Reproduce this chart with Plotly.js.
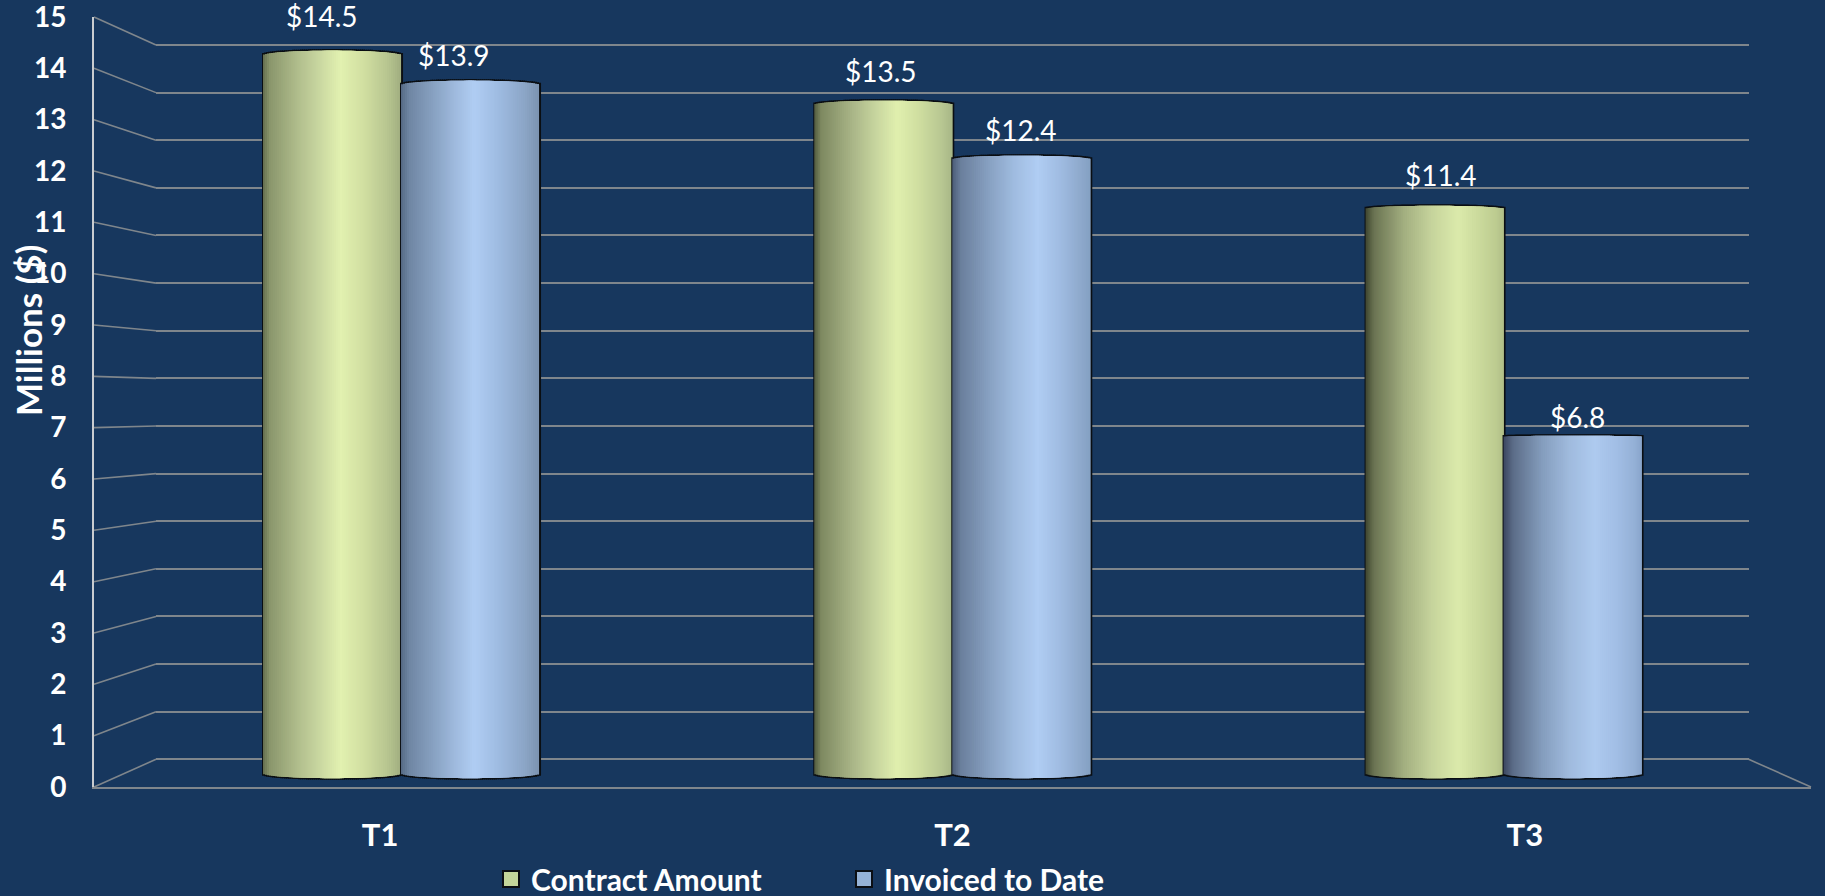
<!DOCTYPE html>
<html><head><meta charset="utf-8">
<script src="https://cdn.plot.ly/plotly-3.0.1.min.js"></script>
<style>html,body{margin:0;padding:0;background:#17375E;overflow:hidden}</style>
</head><body><div id="chart" style="width:1825px;height:896px"></div>
<script>
const categories = ['T1','T2','T3'];
const contractAmount = [14.5,13.5,11.4];
const invoicedToDate = [13.9,12.4,6.8];
const contractLabels = ['$14.5','$13.5','$11.4'];
const invoicedLabels = ['$13.9','$12.4','$6.8'];
const yTicks = [0,1,2,3,4,5,6,7,8,9,10,11,12,13,14,15];

const W=1825,H=896;
const fx=p=>p/W, fy=p=>1-p/H;
const FONT='Lato, "Noto Sans", sans-serif';
const GRID='#7f868c';
// planes (pixel frames of the pseudo-3D box)
const front={x0:94,x1:1811,y0:787,y15:17};
const back={x0:156,x1:1748.6,y0:759.3,y15:45};
const mid={x0:125.4,x1:1779.2,y0:773.5,y15:30.5};
const pxPerCat=(mid.x1-mid.x0)/3;
const barW=138/pxPerCat;
const pxPerVal=(mid.y0-mid.y15)/15;
const ELLB=4.7/pxPerVal, EDGE=1.5/pxPerVal, EDGEX=1/pxPerCat;
const topSag=v=>Math.max(1,4.7*Math.abs(v-5.5)/9)/pxPerVal;   // the cap flattens towards eye level
const N=70;
const backPad=0.2, backPx=(back.y0-back.y15)/15*backPad;
const midPad=0.4, midPx=pxPerVal*midPad;

function hex(c){return [1,3,5].map(i=>parseInt(c.substr(i,2),16));}
function ramp(stops,t){
  for(let i=1;i<stops.length;i++){ if(t<=stops[i][0]){
    const a=stops[i-1],b=stops[i],f=(t-a[0])/(b[0]-a[0]||1);
    const A=hex(a[1]),B=hex(b[1]);
    return 'rgb('+A.map((v,k)=>Math.round(v+(B[k]-v)*f)).join(',')+')';
  }}
  return stops[stops.length-1][1];
}
const contractStyle=[
 [[0,'#667050'],[.05,'#8a966c'],[.25,'#b0bd8c'],[.42,'#cbd9a2'],[.56,'#e2f1b0'],[.72,'#d2e0a2'],[.9,'#b8c690'],[1,'#a0ad80']],
 [[0,'#535b40'],[.05,'#7e8961'],[.28,'#aab688'],[.45,'#c8d69f'],[.6,'#e0efae'],[.76,'#cfdea0'],[.92,'#b8c792'],[1,'#a8b687']],
 [[0,'#3f4630'],[.06,'#6a7352'],[.28,'#a3af80'],[.48,'#c6d49c'],[.67,'#dbeaab'],[.82,'#cbda9c'],[.95,'#bccb90'],[1,'#b0be88']]
];
const invoicedStyle=[
 [[0,'#566b85'],[.06,'#6f86a3'],[.25,'#8aa4c4'],[.4,'#a0bbdf'],[.53,'#b0cdf3'],[.7,'#9fbce2'],[.9,'#8ba5c6'],[1,'#7c93b0']],
 [[0,'#4d5d78'],[.06,'#6a7f9c'],[.28,'#89a3c4'],[.45,'#a0bce0'],[.62,'#b0cdf3'],[.78,'#a0bce2'],[.93,'#8ea9cc'],[1,'#84a0c2']],
 [[0,'#3c4760'],[.07,'#5c6d88'],[.28,'#849dbd'],[.48,'#a0bbde'],[.66,'#aecaef'],[.82,'#a2bee5'],[.95,'#94b0d6'],[1,'#8aa6cc']]
];

const traces=[];
function legendTrace(name,color){return {type:'scatter',mode:'markers',name:name,x:[null],y:[null],xaxis:'x',yaxis:'y',
  marker:{symbol:'square',size:16,color:color,line:{color:'#0b0f14',width:2}},hoverinfo:'skip',showlegend:true};}
traces.push(legendTrace('Contract Amount','#C3D69B'));
traces.push(legendTrace('Invoiced to Date','#95B3D7'));
traces.push({type:'scatter',mode:'lines',x:[null],y:[null],xaxis:'x2',yaxis:'y2',showlegend:false,hoverinfo:'skip'});

const sag=u=>Math.sqrt(Math.max(0,1-u*u));
function cylinder(values,styles,start,name){
  const dw=(barW+2*EDGEX)/N;
  for(let i=0;i<N;i++){
    const s=sag((i+.5)/N*2-1);
    traces.push({type:'bar',x:categories,y:values.map(v=>v+topSag(v)*s+ELLB*s+2*EDGE),base:values.map(()=>-(ELLB*s+EDGE)),
      offset:start-EDGEX+i*dw,width:dw*1.5,marker:{color:'#0a0e12',line:{width:0}},cliponaxis:false,
      xaxis:'x3',yaxis:'y3',showlegend:false,hoverinfo:'skip'});
  }
  const sw=barW/N;
  for(let i=0;i<N;i++){
    const t=(i+.5)/N,uA=(i/N)*2-1,uB=((i+Math.min(3,N-i))/N)*2-1;
    const s=Math.min(sag(uA+1/N),sag(uB-1/N));
    // each slice runs under the next one, so no seam shows the dark outline
    traces.push({type:'bar',x:categories,y:values.map(v=>v+topSag(v)*s+ELLB*s),base:values.map(()=>-ELLB*s),
      offset:start+i*sw,width:sw*Math.min(3,N-i),marker:{color:styles.map(c=>ramp(c,t)),line:{width:0}},cliponaxis:false,
      xaxis:'x3',yaxis:'y3',showlegend:false,name:name,hoverinfo:'skip'});
  }
}
cylinder(contractAmount,contractStyle,-barW,'Contract Amount');
cylinder(invoicedToDate,invoicedStyle,0,'Invoiced to Date');

const shapes=yTicks.map(v=>({type:'line',layer:'below',xref:'paper',yref:'paper',
  x0:fx(front.x0),y0:fy(front.y0+(front.y15-front.y0)*v/15),
  x1:fx(back.x0),y1:fy(back.y0+(back.y15-back.y0)*v/15),
  line:{color:GRID,width:1.6}}));
shapes.push({type:'line',layer:'below',xref:'paper',yref:'paper',x0:fx(back.x1),y0:fy(back.y0),x1:fx(front.x1),y1:fy(front.y0),line:{color:GRID,width:1.6}});

const labelShift=[[-10,39],[-2,34],[6,34]];
const labelShift2=[[-16,30],[0,29],[5,20]];
const annotations=[];
function addLabels(vals,txt,dx,shifts){vals.forEach((v,i)=>annotations.push({
  xref:'x3',yref:'y3',x:i+dx,y:v,text:txt[i],showarrow:false,xanchor:'center',yanchor:'middle',
  xshift:shifts[i][0],yshift:shifts[i][1],font:{family:FONT,size:28,color:'#ffffff'}}));}
addLabels(contractAmount,contractLabels,-barW/2,labelShift);
addLabels(invoicedToDate,invoicedLabels,barW/2,labelShift2);
annotations.push({xref:'paper',yref:'paper',x:fx(28),y:fy(331),text:'<b>Millions ($)</b>',textangle:-90,showarrow:false,
  xanchor:'center',yanchor:'middle',font:{family:FONT,size:35,color:'#ffffff'}});

const layout={
  width:W,height:H,margin:{l:0,r:0,t:0,b:0,autoexpand:false},paper_bgcolor:'#17375E',plot_bgcolor:'rgba(0,0,0,0)',
  barmode:'overlay',showlegend:true,shapes,annotations,
  legend:{orientation:'h',x:fx(491),xanchor:'left',y:fy(879),yanchor:'middle',bgcolor:'rgba(0,0,0,0)',
    font:{family:FONT,size:30,color:'#ffffff',weight:700},entrywidth:308,entrywidthmode:'pixels',itemsizing:'trace',traceorder:'normal',itemclick:false,itemdoubleclick:false},
  xaxis:{domain:[fx(front.x0),fx(front.x1)],anchor:'y',type:'category',categoryorder:'array',categoryarray:categories,
    range:[-.5,2.5],tickvals:categories,ticktext:categories,showgrid:false,zeroline:false,showline:true,linecolor:GRID,linewidth:2,
    ticks:'outside',ticklen:20,tickcolor:'rgba(0,0,0,0)',tickfont:{family:FONT,size:31,color:'#ffffff',weight:700},fixedrange:true},
  yaxis:{domain:[fy(front.y0),fy(front.y15)],anchor:'x',range:[0,15],tickvals:yTicks,showgrid:false,zeroline:false,showline:true,
    linecolor:'#c9ccd0',linewidth:2,ticks:'outside',ticklen:20,tickcolor:'rgba(0,0,0,0)',ticklabeloverflow:'allow',
    tickfont:{family:FONT,size:28,color:'#ffffff',weight:700},fixedrange:true},
  xaxis2:{domain:[fx(back.x0),fx(back.x1)],anchor:'y2',range:[0,1],visible:false,fixedrange:true},
  yaxis2:{domain:[fy(back.y0+backPx),fy(back.y15-backPx)],anchor:'x2',range:[-backPad,15+backPad],tickvals:yTicks,showgrid:true,gridcolor:GRID,gridwidth:2,
    zeroline:false,showline:false,ticks:'',showticklabels:false,fixedrange:true},
  xaxis3:{domain:[fx(mid.x0),fx(mid.x1)],anchor:'y3',type:'category',categoryorder:'array',categoryarray:categories,range:[-.5,2.5],
    showgrid:false,zeroline:false,showline:false,ticks:'',showticklabels:false,fixedrange:true},
  yaxis3:{domain:[fy(mid.y0+midPx),fy(mid.y15-midPx)],anchor:'x3',range:[-midPad,15+midPad],showgrid:false,zeroline:false,showline:false,ticks:'',showticklabels:false,fixedrange:true}
};
Plotly.newPlot('chart',traces,layout,{displayModeBar:false,staticPlot:true});
</script></body></html>
